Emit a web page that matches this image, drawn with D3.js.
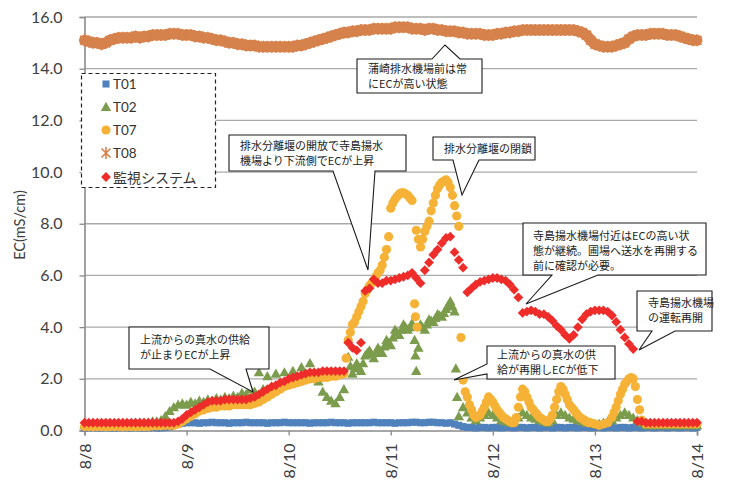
<!DOCTYPE html>
<html><head><meta charset="utf-8">
<script src="https://cdn.jsdelivr.net/npm/d3@7/dist/d3.min.js"></script>
<style>body{margin:0;background:#fff}</style>
</head><body>
<svg id="chart" width="732" height="481"></svg>
<script>
// ---------- DATA (hourly readings from 8/8 00:00 to 8/14 00:00) ----------
const startDate = "2000-08-08";
const xTickLabels = ["8/8","8/9","8/10","8/11","8/12","8/13","8/14"];
const yTickValues = [0,2,4,6,8,10,12,14,16];
const yTickLabels = ["0.0","2.0","4.0","6.0","8.0","10.0","12.0","14.0","16.0"];
const seriesNames = ["T01","T02","T07","T08","監視システム"];

const T01 = [
 0.10,0.10,0.12,0.10,0.10,0.12,0.10,0.10,0.10,0.12,
 0.10,0.10,0.12,0.10,0.10,0.10,0.12,0.10,0.10,0.12,
 0.15,0.20,0.25,0.28,0.30,0.30,0.30,0.28,0.30,0.30,
 0.32,0.30,0.30,0.30,0.28,0.30,0.30,0.30,0.32,0.30,
 0.30,0.30,0.30,0.28,0.30,0.30,0.30,0.32,0.30,0.30,
 0.30,0.30,0.30,0.28,0.30,0.30,0.30,0.30,0.32,0.30,
 0.30,0.30,0.28,0.30,0.30,0.30,0.30,0.30,0.32,0.30,
 0.30,0.30,0.30,0.28,0.30,0.30,0.30,0.32,0.32,0.30,
 0.30,0.32,0.32,0.30,0.30,0.28,0.30,0.25,0.20,0.15,
 0.12,0.12,0.10,0.12,0.12,0.10,0.12,0.12,0.10,0.12,
 0.12,0.10,0.12,0.12,0.10,0.12,0.12,0.10,0.12,0.12,
 0.10,0.12,0.12,0.10,0.12,0.12,0.10,0.12,0.12,0.10,
 0.12,0.12,0.10,0.12,0.12,0.10,0.12,0.12,0.10,0.12,
 0.12,0.10,0.12,0.12,0.10,0.12,0.12,0.10,0.12,0.12,
 0.10,0.12,0.12,0.10,0.12];

const T02 = [
 0.20,0.20,0.25,0.20,0.20,0.20,0.25,0.20,0.20,0.20,
 0.25,0.25,0.30,0.30,0.30,0.30,0.35,0.35,0.40,0.55,
 0.75,0.90,1.00,1.05,1.00,1.10,1.05,1.15,1.10,1.20,
 1.15,1.25,1.20,1.30,1.25,1.35,1.30,1.45,1.40,1.60,
 1.50,2.25,1.60,2.10,1.70,2.20,1.80,2.25,1.90,2.30,
 2.00,2.45,2.20,2.60,2.10,1.90,1.50,1.30,1.15,1.05,
 1.30,1.60,2.85,2.20,2.60,2.30,2.90,3.10,2.80,3.20,
 3.00,3.50,3.30,3.90,3.70,4.10,3.90,4.15,2.30,4.10,
 3.90,4.30,4.20,4.50,4.40,4.70,5.00,4.60,0.55,0.90,
 0.70,0.50,0.40,0.50,0.60,0.70,0.60,0.50,0.40,0.35,
 0.30,0.35,0.50,0.70,0.60,0.50,0.45,0.40,0.35,0.30,
 0.40,0.60,0.70,0.60,0.50,0.45,0.40,0.35,0.30,0.30,
 0.25,0.25,0.30,0.35,0.40,0.50,0.60,0.70,0.60,0.50,
 0.40,0.30,0.20,0.20,0.20,0.20,0.20,0.20,0.20,0.20,
 0.20,0.20,0.20,0.20,0.20];
// extra (half-hour / off-hour) T02 readings: [hour, value]
const T02extra = [
 [62.5,2.5],[63.5,2.4],[64.5,2.45],[65.5,2.6],[66.5,3.0],[67.5,2.95],[68.5,3.0],[69.5,3.1],
 [70.5,3.25],[71.5,3.4],[72.5,3.6],[73.5,3.8],[74.5,3.9],[75.5,4.0],[76.5,4.0],
 [77.6,3.5],[77.8,2.9],[78.5,3.2],[79.5,4.0],[80.5,4.1],[81.5,4.25],[82.5,4.35],
 [83.5,4.45],[84.5,4.55],[85.5,4.85],[86.5,4.8],[87.3,2.4],[87.6,1.3]];

const T07 = [
 0.15,0.15,0.15,0.15,0.15,0.15,0.15,0.15,0.15,0.15,
 0.15,0.15,0.15,0.15,0.15,0.15,0.18,0.18,0.18,0.20,
 0.20,0.20,0.25,0.35,0.45,0.55,0.65,0.75,0.80,0.85,
 0.90,0.90,0.95,0.95,0.95,1.00,1.00,1.00,1.00,1.00,
 1.05,1.10,1.20,1.30,1.40,1.50,1.60,1.70,1.75,1.80,
 1.85,1.90,1.95,2.00,2.00,2.05,2.05,2.05,2.10,2.10,
 2.15,2.20,3.50,4.10,4.40,4.80,5.30,5.60,5.80,6.10,
 6.40,7.00,8.60,8.95,9.15,9.20,9.10,8.90,7.75,7.10,
 7.70,8.10,8.80,9.35,9.60,9.70,9.40,8.70,7.90,1.95,
 1.30,0.80,0.50,0.60,0.90,1.30,1.10,0.80,0.60,0.45,
 0.35,0.30,0.90,1.60,1.30,0.90,0.70,0.50,0.40,0.35,
 0.60,1.20,1.70,1.40,1.00,0.80,0.60,0.45,0.35,0.30,
 0.25,0.20,0.25,0.30,0.50,0.90,1.40,1.80,2.00,2.00,
 1.20,0.40,0.25,0.25,0.25,0.25,0.25,0.25,0.25,0.25,
 0.25,0.25,0.25,0.25,0.25];
const T07extra = [
 [61.5,2.8],[62.5,3.8],[63.5,4.2],[64.5,4.6],[65.5,5.0],[66.5,5.45],[67.5,5.7],[68.5,5.95],
 [69.5,6.2],[70.5,6.7],[71.5,7.5],[72.5,8.8],[73.5,9.05],[74.5,9.2],[75.5,9.15],[76.5,9.0],
 [77.6,4.9],[77.8,4.4],[78.2,4.0],[78.5,7.4],[79.5,7.4],[80.5,7.9],[81.5,8.5],[82.5,9.1],
 [83.5,9.5],[84.5,9.65],[85.5,9.6],[86.5,9.1],[87.5,8.3],[88.5,3.6],[89.5,1.5],[90.5,1.0],
 [91.5,0.6],[92.5,0.55],[93.5,0.75],[94.5,1.1],[95.5,1.2],[96.5,0.95],[97.5,0.7],[98.5,0.5],
 [99.5,0.4],[100.5,0.3],[101.5,0.5],[102.5,1.3],[103.5,1.5],[104.5,1.1],[105.5,0.8],
 [106.5,0.6],[107.5,0.45],[108.5,0.35],[109.5,0.45],[110.5,0.9],[111.5,1.5],[112.5,1.6],
 [113.5,1.2],[114.5,0.9],[115.5,0.7],[116.5,0.5],[117.5,0.4],[118.5,0.3],[124.5,0.7],
 [125.5,1.15],[126.5,1.6],[127.5,1.9],[128.5,2.05],[129.5,1.7],[130.5,0.8]];

const T08 = [
 15.10,15.05,15.00,15.00,14.95,15.00,15.10,15.15,15.20,15.20,
 15.20,15.20,15.25,15.20,15.25,15.25,15.30,15.30,15.30,15.30,
 15.35,15.35,15.35,15.30,15.30,15.30,15.25,15.25,15.20,15.20,
 15.15,15.10,15.10,15.05,15.00,15.00,14.95,14.95,14.90,14.90,
 14.90,14.85,14.85,14.85,14.85,14.85,14.85,14.85,14.85,14.85,
 14.90,14.90,14.95,15.00,15.05,15.10,15.15,15.20,15.25,15.30,
 15.35,15.40,15.40,15.45,15.45,15.50,15.50,15.50,15.55,15.55,
 15.55,15.55,15.55,15.60,15.60,15.60,15.60,15.55,15.55,15.55,
 15.50,15.55,15.55,15.50,15.50,15.45,15.45,15.45,15.40,15.40,
 15.35,15.35,15.35,15.35,15.30,15.30,15.30,15.35,15.35,15.40,
 15.40,15.45,15.45,15.50,15.50,15.50,15.50,15.50,15.50,15.50,
 15.50,15.50,15.50,15.50,15.50,15.50,15.45,15.40,15.30,15.10,
 14.95,14.90,14.85,14.85,14.85,14.90,14.95,15.00,15.15,15.25,
 15.30,15.30,15.30,15.35,15.35,15.35,15.35,15.30,15.30,15.30,
 15.25,15.20,15.15,15.10,15.10];

const MON = [
 0.30,0.30,0.30,0.30,0.30,0.30,0.30,0.30,0.30,0.30,
 0.30,0.30,0.30,0.30,0.30,0.30,0.30,0.30,0.30,0.30,
 0.30,0.30,0.35,0.45,0.60,0.70,0.80,0.90,1.00,1.10,
 1.15,1.15,1.15,1.20,1.20,1.20,1.20,1.20,1.20,1.25,
 1.30,1.40,1.50,1.60,1.70,1.75,1.85,1.90,2.00,2.05,
 2.10,2.15,2.20,2.25,2.25,2.25,2.30,2.30,2.30,2.30,
 2.30,2.30,3.40,3.20,3.10,3.40,5.40,5.50,5.85,5.70,
 5.70,5.80,5.80,5.85,5.90,5.95,6.00,6.10,5.90,5.70,
 6.20,6.50,6.80,7.00,7.25,7.45,7.50,6.90,6.60,6.30,
 5.35,5.50,5.65,5.75,5.80,5.85,5.90,5.90,5.85,5.80,
 5.65,5.45,5.15,4.55,4.60,4.65,4.60,4.50,4.50,4.40,
 4.25,4.05,3.90,3.70,3.55,3.70,4.00,4.30,4.50,4.60,
 4.65,4.65,4.65,4.60,4.45,4.20,3.90,3.60,3.35,3.15,
 0.35,0.35,0.30,0.30,0.30,0.30,0.30,0.30,0.30,0.30,
 0.30,0.30,0.30,0.30,0.30];

const noteTexts = [
 ["排水分離堰の開放で寺島揚水","機場より下流側でECが上昇"],
 ["排水分離堰の閉鎖"],
 ["蒲崎排水機場前は常","にECが高い状態"],
 ["寺島揚水機場付近はECの高い状","態が継続。圃場へ送水を再開する","前に確認が必要。"],
 ["寺島揚水機場","の運転再開"],
 ["上流からの真水の供給","が止まりECが上昇"],
 ["上流からの真水の供","給が再開しECが低下"]
];

// ---------- LAYOUT ----------
const svg = d3.select("#chart");
const colors = {T01:"#4f81bd", T02:"#7b9c4c", T07:"#f5b236", T08:"#d6824c", MON:"#ee2c2a"};
const t0 = d3.timeParse("%Y-%m-%d")(startDate);
const tAt = h => d3.timeMinute.offset(t0, Math.round(h*60));
const x = d3.scaleTime().domain([t0, d3.timeDay.offset(t0, 6)]).range([84.5, 697]);
const y = d3.scaleLinear().domain([0,16]).range([430.5, 17]);
const NUM = "Lato, 'Open Sans', sans-serif";
const JP = "'Noto Sans CJK JP', sans-serif";

// gridlines
svg.append("g").selectAll("line").data(yTickValues.filter(v=>v>0)).join("line")
  .attr("x1",84.5).attr("x2",697).attr("y1",d=>y(d)).attr("y2",d=>y(d))
  .attr("stroke","#a9a9a9").attr("stroke-width",1.3);

// y axis
const yAxis = d3.axisLeft(y).tickValues(yTickValues).tickSize(5)
  .tickFormat((d,i)=>yTickLabels[i]);
const gy = svg.append("g").attr("transform","translate(84.5,0)").call(yAxis);
gy.select(".domain").attr("stroke","#8a8a8a").attr("stroke-width",1.6);
gy.selectAll(".tick line").attr("stroke","#8a8a8a").attr("stroke-width",1.3);
gy.selectAll(".tick text").attr("font-family",NUM).attr("font-size",16).attr("fill","#404040").attr("x",-22);

// x axis
const xTicks = xTickLabels.map((s,i)=>d3.timeDay.offset(t0,i));
const xAxis = d3.axisBottom(x).tickValues(xTicks).tickSize(5).tickFormat((d,i)=>xTickLabels[i]);
const gx = svg.append("g").attr("transform","translate(0,430.5)").call(xAxis);
gx.select(".domain").attr("stroke","#8a8a8a").attr("stroke-width",1.6);
gx.selectAll(".tick line").attr("stroke","#8a8a8a").attr("stroke-width",1.3);
gx.selectAll(".tick text").attr("font-family",NUM).attr("font-size",16).attr("fill","#404040")
  .attr("transform","rotate(-90)").attr("text-anchor","end")
  .attr("x",-13).attr("y",0).attr("dy","0.35em");

// y title
svg.append("text").attr("transform","translate(19,225) rotate(-90)")
  .attr("text-anchor","middle").attr("dominant-baseline","central")
  .attr("font-family",NUM).attr("font-size",14.5).attr("fill","#404040").text("EC(mS/cm)");

// markers
const shapes = {
  square: d3.symbol(d3.symbolSquare, 50)(),
  triangle: "M0,-5.2L5.2,4L-5.2,4Z",
  circle: d3.symbol(d3.symbolCircle, 66)(),
  star: "M-4.5,-4.5L4.5,4.5M-4.5,4.5L4.5,-4.5M0,-6V6",
  diamond: "M0,-4.9L4.9,0L0,4.9L-4.9,0Z"
};
const pts = arr => arr.map((v,i)=>({h:i, v:v}));
const ex = arr => arr.map(d=>({h:d[0], v:d[1]}));

function drawSeries(data, shape, color, opts={}) {
  const g = svg.append("g");
  if (opts.band) {
    g.append("path").datum(data)
      .attr("d", d3.line().x(d=>x(tAt(d.h))).y(d=>y(d.v)))
      .attr("fill","none").attr("stroke",color).attr("stroke-width",opts.band)
      .attr("stroke-linejoin","round").attr("stroke-linecap","round");
  }
  g.selectAll("path.m").data(data).join("path").attr("class","m")
    .attr("d", shapes[shape])
    .attr("transform", d=>`translate(${x(tAt(d.h))},${y(d.v)})`)
    .attr("fill", shape==="star" ? "none" : color)
    .attr("stroke", shape==="star" ? color : "none")
    .attr("stroke-width", shape==="star" ? 1.6 : 0);
}
drawSeries(pts(T01), "square", colors.T01);
drawSeries(pts(T02).concat(ex(T02extra)), "triangle", colors.T02);
drawSeries(pts(T07).concat(ex(T07extra)), "circle", colors.T07);
drawSeries(pts(T08), "star", colors.T08, {band: 11});
drawSeries(pts(MON), "diamond", colors.MON);

// legend
const lg = svg.append("g");
lg.append("rect").attr("x",81.5).attr("y",73.5).attr("width",134).attr("height",114)
  .attr("fill","#fff").attr("stroke","#222").attr("stroke-width",1.2).attr("stroke-dasharray","4,3");
const legShapes = ["square","triangle","circle","star","diamond"];
const legColors = [colors.T01, colors.T02, colors.T07, colors.T08, colors.MON];
const legY = [84,107,130,153,177];
seriesNames.forEach((name,i)=>{
  const s = legShapes[i];
  lg.append("path").attr("d", shapes[s]).attr("transform",`translate(106,${legY[i]})`)
    .attr("fill", s==="star"?"none":legColors[i]).attr("stroke", s==="star"?legColors[i]:"none")
    .attr("stroke-width",1.6);
  lg.append("text").attr("x",113).attr("y",legY[i]).attr("dominant-baseline","central")
    .attr("font-family", i===4?JP:NUM).attr("font-size", i===4?14:13.5).attr("fill","#333").text(name);
});

// callouts
const noteLayout = [
  {box:[229,135,406,171], side:"bottom", a:333, c:375, tip:[368,270], tx:240, y0:146, lh:15},
  {box:[433,137,535,160], side:"bottom", a:453, c:479, tip:[462,195], tx:444, y0:149, lh:15},
  {box:[357,59,482,93], side:"top", a:432, c:460, tip:[445,45], tx:368, y0:69, lh:15},
  {box:[523,223,706,275], side:"bottom", a:552, c:598, tip:[526,304], tx:533, y0:236, lh:15},
  {box:[637,291,712,331], side:"bottom", a:652, c:675, tip:[639,350], tx:648, y0:303, lh:15},
  {box:[129,327,269,369], side:"bottom", a:210, c:246, tip:[253,392], tx:140, y0:340, lh:15},
  {box:[487,346,615,379], side:"left", a:364, c:374, tip:[454,380], tx:497, y0:355, lh:15}
];
function calloutPath(L){
  const [x0,y0,x1,y1] = L.box, [tx,ty] = L.tip;
  if (L.side==="bottom") return `M${x0},${y0}H${x1}V${y1}H${L.c}L${tx},${ty}L${L.a},${y1}H${x0}Z`;
  if (L.side==="top") return `M${x0},${y0}H${L.a}L${tx},${ty}L${L.c},${y0}H${x1}V${y1}H${x0}Z`;
  return `M${x0},${y0}H${x1}V${y1}H${x0}V${L.c}L${tx},${ty}L${x0},${L.a}Z`;
}
const ng = svg.append("g");
noteTexts.forEach((lines,i)=>{
  const L = noteLayout[i];
  ng.append("path").attr("d", calloutPath(L)).attr("fill","#fff").attr("stroke","#1a1a1a").attr("stroke-width",1.1);
  const t = ng.append("text").attr("font-family",JP).attr("font-size",11).attr("fill","#222");
  lines.forEach((s,j)=>{
    t.append("tspan").attr("x",L.tx).attr("y",L.y0 + j*L.lh + 4).text(s);
  });
});
</script>
</body></html>
